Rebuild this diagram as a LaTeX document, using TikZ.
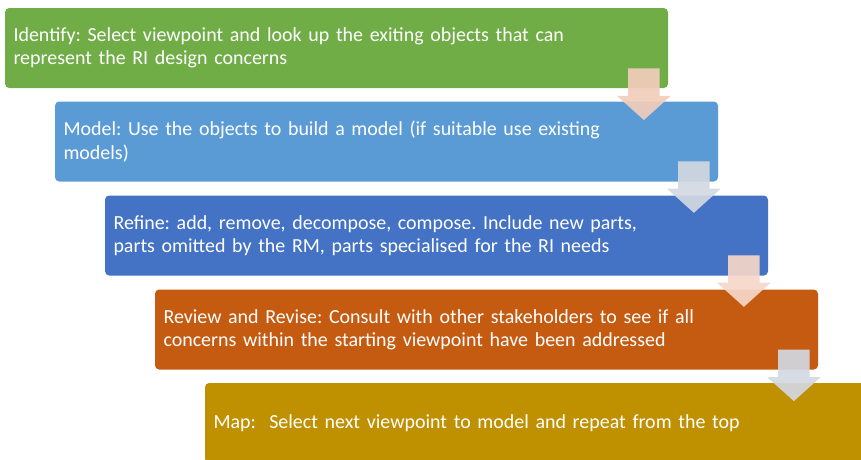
\documentclass[tikz,border=0pt]{standalone}
\usepackage{fontspec}
\setmainfont{Carlito}
\usepackage{xcolor}
\usetikzlibrary{shapes.arrows,positioning,calc}

\definecolor{idgreen}{HTML}{70AD47}
\definecolor{modelblue}{HTML}{5B9BD5}
\definecolor{refineblue}{HTML}{4472C4}
\definecolor{revieworange}{HTML}{C55A11}
\definecolor{mapgold}{HTML}{BF9000}
\definecolor{arrowpeach}{HTML}{F2CDBB}
\definecolor{arrowgrey}{HTML}{D3D8E2}

\begin{document}
\frenchspacing
\begin{tikzpicture}[
    stepbox/.style={rectangle, rounded corners=3pt, minimum width=16.575cm, minimum height=2.0cm, text width=16.15cm, align=left, inner sep=0.2cm, text=white, font=\fontsize{14.2}{16.5}\selectfont},
    flowarrow/.style={single arrow, rotate=-90, anchor=tip, single arrow head extend=0.275cm, single arrow tip angle=96, inner xsep=0.46cm, inner ysep=0.3875cm, draw=none, fill opacity=0.92}
]
    \useasboundingbox (0,0) rectangle (21.525,-11.475);
    \clip (0,0) rectangle (21.525,-11.475);

    % Five staggered step boxes
    \node[stepbox, fill=idgreen]      (b_ident)  at ( 8.4125, -1.2000) {Identify: Select viewpoint and look up the exiting objects that can\\represent the RI design concerns};
    \node[stepbox, fill=modelblue]    (b_model)  at ( 9.6625, -3.5375) {Model: Use the objects to build a model (if suitable use existing\\models)};
    \node[stepbox, fill=refineblue]   (b_refine) at (10.9125, -5.8875) {Refine: add, remove, decompose, compose. Include new parts,\\parts omitted by the RM, parts specialised for the RI needs};
    \node[stepbox, fill=revieworange] (b_review) at (12.1625, -8.2375) {Review and Revise: Consult with other stakeholders to see if all\\concerns within the starting viewpoint have been addressed};
    \node[stepbox, fill=mapgold]      (b_map)    at (13.4125, -10.575) {Map:~ Select next viewpoint to model and repeat from the top};

    % Block arrows: tip sits just inside the top of the next box
    \node[flowarrow, fill=arrowpeach] (a_model)  at ($(b_model.north east) + (-1.86,-0.48)$) {};
    \node[flowarrow, fill=arrowgrey]  (a_refine) at ($(b_refine.north east) + (-1.86,-0.45)$) {};
    \node[flowarrow, fill=arrowpeach!80!white] (a_review) at ($(b_review.north east) + (-1.86,-0.45)$) {};
    \node[flowarrow, fill=arrowgrey]  (a_map)    at ($(b_map.north east) + (-1.86,-0.47)$) {};

\end{tikzpicture}
\end{document}
